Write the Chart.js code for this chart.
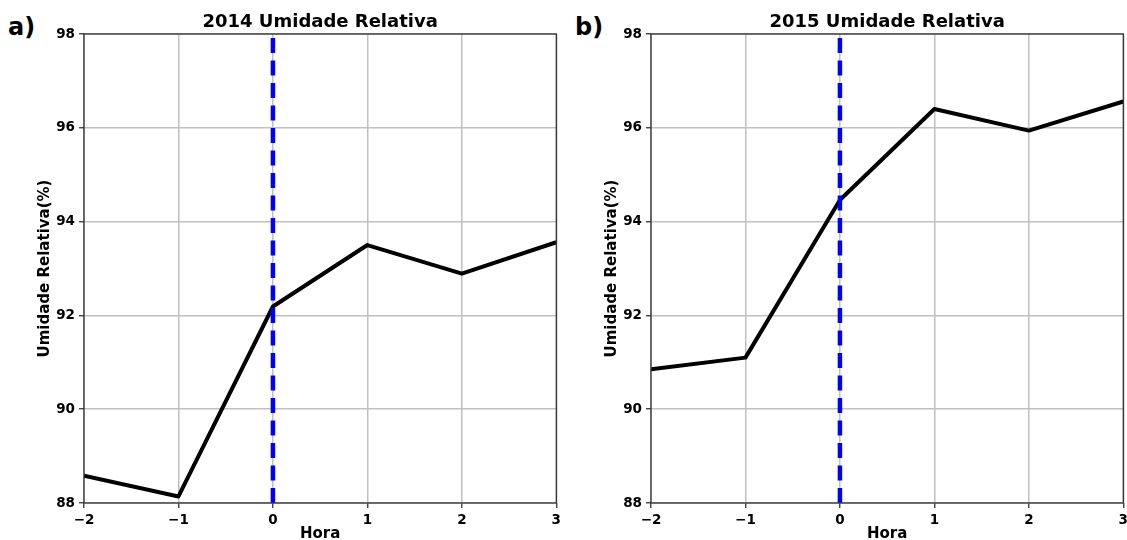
<!DOCTYPE html>
<html>
<head>
<meta charset="utf-8">
<script src="https://cdn.jsdelivr.net/npm/chart.js@4.4.1/dist/chart.umd.min.js"></script>
<style>
  body { margin: 0; background: #fff; overflow: hidden; width: 1127px; height: 540px; position: relative; }
  .painel { position: absolute; top: 0; }
  .letra { position: absolute; font: bold 24px "DejaVu Sans", sans-serif; line-height: 1; color: #000; }
</style>
</head>
<body>
<div class="letra" style="left:8px; top:15px;">a)</div>
<div class="letra" style="left:575px; top:15px;">b)</div>
<div class="painel" style="left:0px;"><canvas id="graf2014" width="565" height="543"></canvas></div>
<div class="painel" style="left:567px;"><canvas id="graf2015" width="565" height="543"></canvas></div>
<script>
// dados
const horas = [-2, -1, 0, 1, 2, 3];
const umidade2014 = [88.58, 88.14, 92.19, 93.50, 92.89, 93.56];
const umidade2015 = [90.85, 91.10, 94.46, 96.40, 95.94, 96.56];
const limitesY = [88, 98];
const horaEvento = 0;

const fonte = '"DejaVu Sans", sans-serif';

// contorno do eixo (4 lados, como no matplotlib)
const molduraPlugin = {
    id: 'moldura',
    afterDraw(chart) {
        const a = chart.chartArea, ctx = chart.ctx;
        ctx.save();
        ctx.strokeStyle = '#333';
        ctx.lineWidth = 1.3;
        ctx.strokeRect(a.left, a.top, a.right - a.left, a.bottom - a.top);
        ctx.restore();
    }
};

function desenharPainel(id, titulo, valores) {
    const pontos = horas.map((h, i) => ({ x: h, y: valores[i] }));
    new Chart(document.getElementById(id), {
        type: 'line',
        data: {
            datasets: [
                {
                    data: [{ x: horaEvento, y: limitesY[0] }, { x: horaEvento, y: limitesY[1] }],
                    borderColor: '#0000ff',
                    borderWidth: 4.5,
                    borderDash: [15, 7.5],
                    pointRadius: 0,
                    order: 0
                },
                {
                    data: pontos,
                    borderColor: '#000',
                    borderWidth: 4,
                    borderJoinStyle: 'round',
                    pointRadius: 0,
                    tension: 0,
                    order: 1
                }
            ]
        },
        options: {
            responsive: false,
            animation: false,
            layout: { padding: 0 },
            plugins: {
                legend: { display: false },
                tooltip: { enabled: false },
                title: {
                    display: true,
                    text: titulo,
                    fullSize: false,
                    color: '#000',
                    font: { family: fonte, size: 18, weight: 'bold' },
                    padding: { top: 12, bottom: 0.4 }
                }
            },
            scales: {
                x: {
                    type: 'linear',
                    min: horas[0],
                    max: horas[horas.length - 1],
                    afterFit(s) { s.height = 40; },
                    border: { display: false },
                    grid: { color: '#c0c0c0', lineWidth: 1.5, tickLength: 5, tickColor: '#333', tickWidth: 1.3 },
                    ticks: {
                        stepSize: 1,
                        padding: 4,
                        color: '#000',
                        font: { family: fonte, size: 13.5, weight: 'bold' },
                        callback: v => String(v).replace('-', '\u2212')
                    },
                    title: {
                        display: true,
                        text: 'Hora',
                        color: '#000',
                        font: { family: fonte, size: 15, weight: 'bold' },
                        padding: { top: 0, bottom: 0 }
                    }
                },
                y: {
                    min: limitesY[0],
                    max: limitesY[1],
                    afterFit(s) { s.width = 84; },
                    border: { display: false },
                    grid: { color: '#c0c0c0', lineWidth: 1.5, tickLength: 5, tickColor: '#333', tickWidth: 1.3 },
                    ticks: {
                        stepSize: 2,
                        padding: 4,
                        color: '#000',
                        font: { family: fonte, size: 13.5, weight: 'bold' }
                    },
                    title: {
                        display: true,
                        text: 'Umidade Relativa(%)',
                        color: '#000',
                        font: { family: fonte, size: 15, weight: 'bold' },
                        padding: { top: 36, bottom: 0 }
                    }
                }
            }
        },
        plugins: [molduraPlugin]
    });
}

desenharPainel('graf2014', '2014 Umidade Relativa', umidade2014);
desenharPainel('graf2015', '2015 Umidade Relativa', umidade2015);
</script>
</body>
</html>
